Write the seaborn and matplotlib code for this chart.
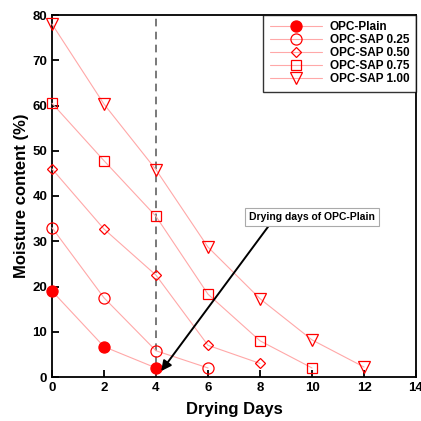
import matplotlib
matplotlib.use("Agg")
import matplotlib.pyplot as plt
import seaborn as sns

days = [0, 2, 4, 6, 8, 10, 12]
plain = [19.0, 6.7, 2.0]
sap_025 = [33.0, 17.5, 5.8, 2.0]
sap_050 = [46.0, 32.7, 22.5, 7.0, 3.0]
sap_075 = [60.5, 47.8, 35.5, 18.3, 8.0, 2.0]
sap_100 = [78.0, 60.3, 45.8, 28.7, 17.3, 8.2, 2.2]

series = [
    ("OPC-Plain", plain, "o", 8, "red"),
    ("OPC-SAP 0.25", sap_025, "o", 8, "none"),
    ("OPC-SAP 0.50", sap_050, "D", 5.5, "none"),
    ("OPC-SAP 0.75", sap_075, "s", 7.5, "none"),
    ("OPC-SAP 1.00", sap_100, "v", 8.5, "none"),
]

sns.set_style("ticks", {"text.color": "black", "axes.labelcolor": "black",
                        "xtick.color": "black", "ytick.color": "black",
                        "axes.edgecolor": "black"})
plt.rcParams["font.family"] = ["Liberation Sans", "DejaVu Sans"]
plt.rcParams["font.weight"] = "bold"
plt.rcParams["axes.labelweight"] = "bold"

fig = plt.figure(figsize=(4.21, 4.21), dpi=100)
ax = fig.add_axes([52 / 421, 1 - 377 / 421, 364 / 421, 362 / 421])

for name, vals, mk, ms, fc in series:
    sns.lineplot(x=days[:len(vals)], y=vals, ax=ax, label=name,
                 color="#ffa8a8", linewidth=0.8, marker=mk, markersize=ms,
                 markeredgecolor="red", markerfacecolor=fc, markeredgewidth=0.9,
                 clip_on=False, zorder=3)

ax.axvline(4, color="#555555", linestyle=(0, (5, 3.5)), linewidth=1.1, zorder=1)

ax.annotate("Drying days of OPC-Plain", xy=(4.2, 1.3), xytext=(10.0, 35.4),
            fontsize=7.5, fontweight="bold", ha="center", va="center",
            bbox=dict(boxstyle="square,pad=0.4", fc="white", ec="#aaaaaa", lw=0.8),
            arrowprops=dict(arrowstyle="-|>", color="black", lw=1.4,
                            mutation_scale=15, shrinkA=0, shrinkB=0,
                            relpos=(0.18, 0.0)))

ax.set_xlim(0, 14)
ax.set_ylim(0, 80)
ax.set_xticks(range(0, 15, 2))
ax.set_yticks(range(0, 81, 10))
ax.tick_params(direction="in", length=5, width=1.3, labelsize=9.5)
for sp in ax.spines.values():
    sp.set_visible(True)
    sp.set_linewidth(1.3)
ax.set_xlabel("Drying Days", fontsize=12, fontweight="bold", labelpad=6)
ax.set_ylabel("Moisture content (%)", fontsize=12, fontweight="bold", labelpad=2)

leg = ax.legend(loc="upper right", handlelength=4.4, frameon=True,
                fancybox=False, edgecolor="black", borderpad=0.55,
                labelspacing=0.08, borderaxespad=0.0, handletextpad=0.7,
                prop={"weight": "bold", "size": 8.5})
leg.get_frame().set_linewidth(1.0)

fig.savefig("out.png", dpi=100)
